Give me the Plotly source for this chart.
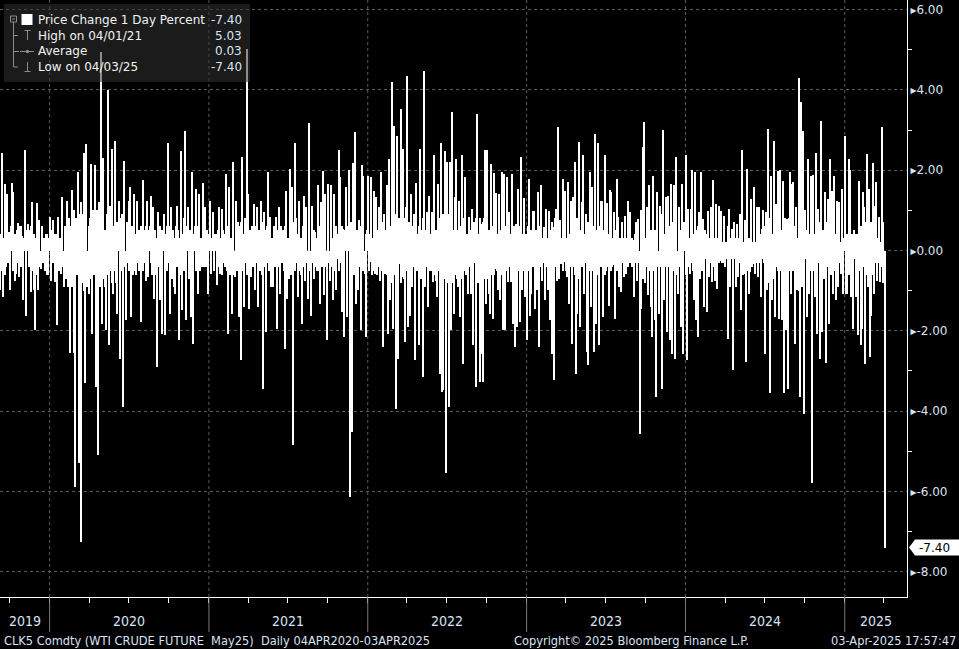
from itertools import zip_longest

import pandas as pd
import plotly.graph_objects as go

# ---------------- data (daily % change, by calendar year) ----------------
# chg_YYYY: the visible needle tips; small_YYYY: the small moves forming the dense band round zero
# (the two lists alternate day by day)
chg_2019 = [-0.99, 2.42, -1.16, 1.66, -0.41, 1.41, 0.45, -0.99, 1.68, 1.45, -0.75, -0.58, 0.69, -0.66,
            0.62, 0.35, -1.24, 2.50, -1.62, 0.66, 0.50, -1.04, 1.20, -0.99, -1.97, 1.18, -0.99, 0.75,
            -0.45, 0.50, 0.30, -0.50, 0.40, -0.62]
small_2019 = [0.4, -0.5, 0.3, -0.6, 0.5, -0.3, -0.4, 0.6, -0.5, -0.2, 0.4, 0.5, -0.3, 0.6, -0.4, -0.5,
              0.3, -0.6, 0.5, -0.4, -0.3, 0.6, -0.5, 0.4, 0.3, -0.6, 0.5, -0.4, 0.6, -0.3, -0.5, 0.4,
              -0.6, 0.3]
chg_2020 = [0.83, -0.75, 0.75, 0.40, -0.79, -1.86, 0.83, -0.50, -0.58, 1.33, -0.91, 0.60, 1.23, -0.91,
            -2.55, 0.50, 1.51, -2.55, -5.88, 0.70, 1.96, -5.30, -7.25, 0.90, 2.44, -3.31, 2.65, -0.80,
            -1.08, 2.15, -2.07, 1.00, 2.14, -3.40, -5.10, 1.20, 4.95, -1.82, 2.30, -0.90, -1.99, 3.99,
            -2.36, 1.10, 2.53, -1.08, 2.73, -0.80, -1.57, 1.24, -2.69, 0.90, -3.89, 2.24, -1.74, 0.70,
            1.24, 1.57, -1.66, -0.60, 1.41, -0.62, 1.24, -0.50, -0.41, -1.78, 1.76, 0.50, -0.75, 1.24,
            -0.66, 0.60, 1.37, 1.08, -1.20, -0.60, -2.90, 0.95, -1.24, 0.50, -2.07, 0.91, -2.11, 0.60,
            2.69, -1.57, 1.08, -0.70, -0.91, -1.08, 1.12, 0.50, -2.24, 2.49, -1.49, 0.80, 2.98, -1.74,
            1.08, -0.70, -1.66, 1.96, -2.32, 0.60, 1.53, -1.08, 1.41, -0.50, -0.41, 1.67, 1.08, -0.40,
            -1.08]
small_2020 = [-0.4, 0.5, -0.3, -0.6, 0.4, 0.7, -0.5, 0.3, 0.6, -0.4, 0.5, -0.7, -0.3, 0.8, 0.6, -0.9,
              -0.7, 1.0, 0.8, -0.6, -1.1, 0.9, 1.2, -0.8, -1.0, 0.7, -0.9, 0.6, 0.8, -0.7, 0.9, -0.6,
              -0.8, 1.0, 0.7, -0.9, -0.6, 0.8, -0.7, 0.5, 0.9, -0.6, 0.7, -0.5, -0.8, 0.6, -0.5, 0.7,
              0.4, -0.6, 0.8, -0.5, 0.6, -0.4, 0.7, -0.3, -0.5, -0.4, 0.6, 0.3, -0.5, 0.4, -0.3, 0.5,
              0.6, 0.4, -0.5, -0.3, 0.6, -0.4, 0.5, -0.3, -0.6, -0.4, 0.5, 0.3, 0.7, -0.4, 0.6, -0.3,
              0.5, -0.6, 0.4, -0.5, -0.3, 0.6, -0.4, 0.5, 0.3, 0.6, -0.4, -0.5, 0.3, -0.6, 0.4, -0.5,
              -0.3, 0.6, -0.4, 0.5, 0.3, -0.6, 0.4, -0.5, -0.3, 0.6, -0.4, 0.3, 0.5, -0.4, -0.3, 0.5,
              0.4]
chg_2021 = [1.23, -0.58, 0.95, -0.29, 0.40, -0.87, 1.08, -0.58, 1.04, 0.50, -0.41, 1.91, -2.07, 1.57,
            -0.60, -1.57, 2.20, -0.66, 1.24, 0.70, -1.66, -2.73, 2.32, -1.41, 0.80, 5.03, 1.41, -1.45,
            -0.66, 0.60, 1.16, -0.99, 1.08, -1.41, -0.50, 1.24, -3.44, 0.95, -2.03, 0.60, 1.96, 0.83,
            -0.91, -0.91, 0.50, 0.83, -1.95, 1.08, -1.08, 0.40, 0.50, -2.45, 1.49, -1.20, -0.70, 2.03,
            1.57, -4.85, 2.69, 0.80, -1.16, 1.24, -0.60, -1.82, 1.37, -0.75, 1.08, -1.20, 3.17, -1.62,
            1.12, -0.70, 0.46, -0.50, 1.62, -1.33, 1.20, 1.99, -1.12, 1.41, -2.24, 1.66, -0.75, 1.64,
            -1.24, 1.41, -0.99, -0.21, 2.50, 1.82, -1.53, 0.54, -2.15, 1.57, -1.66, 2.00, -6.13, -4.52,
            2.17, 2.94, -1.33, -0.99, 0.75, -1.99, 2.14, 1.86, -0.58, -2.15]
small_2021 = [-0.4, 0.3, -0.5, 0.4, -0.3, 0.5, -0.4, 0.3, -0.6, -0.3, 0.4, -0.5, 0.6, -0.4, 0.3, 0.5,
              -0.6, 0.4, -0.5, -0.3, 0.6, 0.7, -0.5, 0.4, -0.3, -0.6, -0.4, 0.5, 0.3, -0.4, -0.5, 0.6,
              -0.3, 0.5, 0.4, -0.6, 0.7, -0.4, 0.5, -0.3, -0.5, -0.4, 0.3, 0.6, -0.4, -0.3, 0.5, -0.4,
              0.6, -0.3, -0.5, 0.6, -0.4, 0.3, 0.5, -0.6, -0.4, 0.7, -0.5, -0.3, 0.4, -0.5, 0.3, 0.6,
              -0.4, 0.5, -0.3, 0.6, -0.5, 0.4, -0.3, 0.5, -0.4, 0.3, -0.5, 0.6, -0.4, -0.3, 0.5, -0.4,
              0.6, -0.3, 0.5, -0.4, 0.3, -0.5, 0.6, 0.4, -0.5, -0.3, 0.6, -0.4, 0.5, -0.3, 0.6, -0.4,
              0.7, 0.5, -0.6, -0.4, 0.5, 0.3, -0.4, 0.6, -0.5, -0.3, 0.4, 0.5]
chg_2022 = [1.86, -0.29, 1.84, -0.62, 1.49, -0.58, 1.33, -0.54, 1.08, -0.75, 1.95, -2.40, 0.91, -0.58,
            1.64, -2.07, 2.28, -1.24, 4.20, -1.95, 3.11, -3.94, 2.86, -2.69, -0.33, 3.52, -0.66, 2.53,
            -2.28, 1.08, 4.35, -1.91, -1.62, 1.41, -0.91, 0.91, -2.73, 1.67, 0.41, -2.36, 2.53, -0.58,
            -3.16, 4.47, -0.50, 0.95, -1.41, 1.37, -0.46, 0.95, -0.79, 2.38, -0.75, -1.16, 1.66, -3.07,
            2.69, -3.52, -3.48, 2.49, -5.53, 2.20, -3.89, 2.20, -1.99, 3.46, -1.57, 1.33, 2.28, -0.91,
            1.24, -1.66, 2.39, -2.82, -0.50, 1.84, 0.41, -1.08, 0.83, -1.08, 1.04, -2.36, 0.17, -3.40,
            3.40, -0.08, -3.27, 0.66, -2.57, -3.27, 2.50, -1.33, 2.50, -1.08, -1.57, 2.15, -1.70, 1.92,
            -0.46, 1.43, -0.99, 1.41, -1.24, 1.95, -1.99, 1.91, -1.99, 1.82, -0.79, 0.95, -0.79, 1.91,
            -1.82, -2.40, 0.66, -1.91, 1.53, -1.78, 2.34, -0.99, 1.32, -1.16]
small_2022 = [-0.5, 0.4, -0.6, 0.3, -0.5, 0.4, -0.6, 0.5, -0.4, 0.6, -0.5, 0.7, -0.4, 0.5, -0.6, 0.7,
              -0.5, 0.6, -0.8, 0.7, -0.6, 0.9, -0.7, 0.8, 0.5, -0.8, 0.6, -0.7, 0.8, -0.5, -0.9, 0.7,
              0.6, -0.5, 0.6, -0.4, 0.7, -0.5, -0.4, 0.6, -0.7, 0.5, 0.8, -0.9, 0.5, -0.4, 0.6, -0.5,
              0.4, -0.5, 0.4, -0.6, 0.5, 0.6, -0.5, 0.8, -0.7, 0.9, 0.8, -0.7, 1.0, -0.8, 0.9, -0.7,
              0.6, -0.8, 0.5, -0.6, -0.7, 0.5, -0.6, 0.6, -0.7, 0.8, 0.4, -0.6, -0.4, 0.5, -0.4, 0.5,
              -0.5, 0.7, -0.3, 0.8, -0.8, 0.4, 0.8, -0.5, 0.7, 0.8, -0.7, 0.5, -0.7, 0.5, 0.6, -0.6,
              0.6, -0.6, 0.4, -0.5, 0.4, -0.5, 0.5, -0.6, 0.6, -0.5, 0.6, -0.5, 0.4, -0.4, 0.4, -0.5,
              0.6, 0.6, -0.4, 0.6, -0.5, 0.6, -0.6, 0.4, -0.5, 0.4]
chg_2023 = [-2.24, 1.78, -1.62, -1.08, 0.99, 0.99, -1.45, -0.99, 1.47, -2.40, 1.64, -0.75, 0.58, -1.24,
            1.04, -0.99, 0.99, -1.74, -2.57, 0.58, -3.23, 1.04, -0.75, 3.07, 0.75, -0.33, 1.78, -0.29,
            1.49, -0.66, 1.70, -1.33, 1.24, -2.32, 1.34, 2.20, -3.07, -1.57, 2.71, -1.91, 1.20, 2.38,
            -1.08, 0.91, -2.53, -2.86, 1.96, -1.41, 1.57, -2.53, 2.90, -1.82, 2.67,
            -2.36, 1.24, 1.24, -1.66, 2.39, -0.50, 1.18, -1.37, 1.51, 1.45, -0.37, 0.95, -1.70, 1.78,
            0.83, -0.91, -1.04, 0.70, -0.66, 0.87, -0.58, 1.24, 0.91, 0.95, -0.41, 0.25, -1.16, 0.70,
            -0.75, 0.79, -4.56, -1.45, 2.58, 3.21, -0.46, 1.08, -1.12, 1.62, -1.41, -2.15, 1.86, -1.74,
            -3.65, 1.45, -1.57, 1.12, -3.44, 3.00, -1.24, 1.33, -2.03, 1.37, -2.24, 1.66, -2.57, 1.64,
            -2.69, 2.32, -1.08, 1.08, -1.91, 1.66, -2.57]
small_2023 = [0.6, -0.5, 0.5, 0.4, -0.4, -0.3, 0.5, 0.4, -0.5, 0.6, -0.4, 0.3, -0.3, 0.4, -0.4, 0.3,
              -0.4, 0.5, 0.7, -0.3, 0.8, -0.4, 0.3, -0.7, -0.3, 0.3, -0.5, 0.3, -0.5, 0.3, -0.5, 0.4,
              -0.4, 0.6, -0.4, -0.6, 0.8, 0.5, -0.7, 0.5, -0.4, -0.6, 0.4, -0.3, 0.7, 0.7, -0.5, 0.4,
              -0.5, 0.6, -0.7, 0.5, -0.6,
              0.6, -0.4, -0.4, 0.5, -0.6, 0.3, -0.4, 0.4, -0.5, -0.4, 0.3, -0.3, 0.5, -0.5, -0.3, 0.3,
              0.4, -0.3, 0.3, -0.3, 0.3, -0.4, -0.3, -0.3, 0.3, -0.2, 0.4, -0.3, 0.3, -0.3, 1.0, 0.5,
              -0.7, -0.8, 0.3, -0.4, 0.4, -0.5, 0.5, 0.6, -0.5, 0.5, 0.9, -0.4, 0.5, -0.4, 0.9, -0.8,
              0.4, -0.4, 0.6, -0.4, 0.6, -0.5, 0.7, -0.5, 0.7, -0.6, 0.4, -0.4, 0.5, -0.5, 0.7]
chg_2024 = [2.38, -2.73, 1.04, -0.58, 1.04, 2.00, -1.24, 1.95, -1.74, -2.15, 0.95, -0.70, 1.96, 0.79,
            -1.41, 0.50, -1.53, 0.99, -0.66, 1.08, -0.79, 1.76, -0.75, 1.16, -0.95, 1.12, -0.25, 0.99,
            -0.17, 0.87, -0.41, 0.12, -2.20, 1.04, -0.91, 0.54, -2.98, 0.54, -0.91, 0.66, -0.66, 0.91,
            -1.49, 2.50, -0.58, 0.75, -2.78, 2.03, -1.08, -0.54, 1.28, -0.33, 1.57, -0.58, 1.08, -0.66,
            1.08, -1.16, 0.54, 1.01, -2.57, 0.95, -0.99, 3.02, -3.56, 1.86, -1.24, 2.73, -1.66, 1.16,
            1.99, -1.70, 2.00, -1.74, 1.74, -3.56, -1.99, 0.79, -3.44, 1.95, -1.08, 1.66, 1.70, -2.32,
            1.08, -0.99, 4.29, -3.65, 3.69, 2.98, -4.06, 0.46, -1.66, 2.28, -1.08, 1.86, -5.78, 1.89,
            -1.16, 2.44, -2.07, 1.04, -2.69, 3.23, -2.03, -0.70, 1.45, -2.80, 1.28, -1.82, 2.28, 1.49,
            -1.08, 1.86, -1.24, 1.24, -0.91, 1.20, -0.58, 1.53, -1.08]
small_2024 = [-0.6, 0.7, -0.4, 0.3, -0.3, -0.5, 0.4, -0.5, 0.5, 0.6, -0.3, 0.3, -0.5, -0.3, 0.4, -0.2,
              0.4, -0.3, 0.3, -0.3, 0.3, -0.4, 0.3, -0.3, 0.3, -0.3, 0.2, -0.3, 0.2, -0.3, 0.2, -0.2,
              0.6, -0.3, 0.3, -0.2, 0.7, -0.2, 0.3, -0.2, 0.3, -0.3, 0.4, -0.6, 0.2, -0.3, 0.7, -0.5,
              0.3, 0.2, -0.4, 0.2, -0.4, 0.2, -0.3, 0.2, -0.3, 0.4, -0.2, -0.3, 0.6, -0.3, 0.3, -0.8,
              0.8, -0.5, 0.4, -0.7, 0.5, -0.4, -0.5, 0.5, -0.5, 0.5, -0.5, 0.8, 0.5, -0.3, 0.8, -0.5,
              0.4, -0.5, -0.5, 0.6, -0.3, 0.3, -1.0, 0.9, -0.9, -0.7, 1.0, -0.2, 0.5, -0.6, 0.4, -0.5,
              1.2, -0.5, 0.4, -0.6, 0.5, -0.3, 0.7, -0.8, 0.5, 0.3, -0.4, 0.7, -0.4, 0.5, -0.6, -0.4,
              0.4, -0.5, 0.4, -0.4, 0.3, -0.3, 0.2, -0.4, 0.3]
chg_2025 = [2.86, -1.08, -1.08, 2.28, 2.00, -1.16, 0.33, -1.95, 0.37, -1.16, 0.41, -2.11, 1.74, -2.36,
            -1.95, 1.45, 1.08, -2.82, 2.40, -0.91, 1.53, -2.65, -1.62, 2.18, -1.08, 1.12, 1.70, -0.75,
            0.83, -0.79, -0.41, 3.07, 0.70, -7.40]
small_2025 = [-0.7, 0.4, 0.4, -0.6, -0.5, 0.4, -0.2, 0.5, -0.2, 0.4, -0.2, 0.6, -0.5, 0.6, 0.5, -0.4,
              -0.3, 0.7, -0.6, 0.3, -0.4, 0.7, 0.5, -0.6, 0.3, -0.3, -0.5, 0.3, -0.3, 0.2, 0.2, -0.8,
              -0.2]

# first and last trading day covered by each yearly list
year_spans = [("2019-09-10", "2019-12-31"), ("2020-01-02", "2020-12-31"), ("2021-01-04", "2021-12-31"),
              ("2022-01-03", "2022-12-30"), ("2023-01-03", "2023-12-29"), ("2024-01-02", "2024-12-31"),
              ("2025-01-02", "2025-04-03")]
years = [2019, 2020, 2021, 2022, 2023, 2024, 2025]
y_ticks = [-8, -6, -4, -2, 0, 2, 4, 6]
legend_rows = [("Price Change 1 Day Percent", "-7.40"), ("High on 04/01/21", "5.03"),
               ("Average", "0.03"), ("Low on 04/03/25", "-7.40")]
footer_left = "CLK5 Comdty (WTI CRUDE FUTURE\u00a0\u00a0May25)\u00a0\u00a0Daily 04APR2020-03APR2025"
footer_mid = "Copyright\u00a9 2025 Bloomberg Finance L.P."
footer_right = "03-Apr-2025 17:57:47"

# ---------------- build series ----------------
big = [chg_2019, chg_2020, chg_2021, chg_2022, chg_2023, chg_2024, chg_2025]
small = [small_2019, small_2020, small_2021, small_2022, small_2023, small_2024, small_2025]
dates, values = [], []
for (s, e), b, sm in zip(year_spans, big, small):
    seq = [v for pair in zip_longest(b, sm) for v in pair if v is not None]
    dates.extend(pd.date_range(s, e, periods=len(seq)))
    values.extend(seq)
last_val = values[-1]

X0, X1 = pd.Timestamp("2019-09-09"), pd.Timestamp("2025-05-24")
Y0, Y1 = -8.63, 6.24
DAY_MS = 86400000

W, H = 959, 649
ML, MR, MT, MB = 0, 52, 0, 52
PW, PH = W - ML - MR, H - MT - MB


def xp(px):
    return (px - ML) / PW


def yp(py):
    return 1 - (py - MT) / PH


AX_COL = "#dae3f3"
GRID = "#5c5c5c"
ICON = "#8c8c8c"
NARROW = "DejaVu Sans Condensed, Liberation Sans Narrow, sans-serif"
SANS = "DejaVu Sans, Verdana, sans-serif"

fig = go.Figure()
fig.add_trace(go.Bar(x=dates, y=values, width=3.4 * DAY_MS,
                     marker=dict(color="white", line=dict(width=0)),
                     showlegend=False, hoverinfo="x+y"))

shapes, annots = [], []

# year boundary gridlines (dotted) and dividers under the axis
for yr in years[1:]:
    d = pd.Timestamp(f"{yr}-01-01")
    shapes.append(dict(type="line", xref="x", yref="paper", x0=d, x1=d, y0=0, y1=1,
                       line=dict(color=GRID, width=1, dash="dot"), layer="below"))
    shapes.append(dict(type="line", xref="x", yref="paper", x0=d, x1=d, y0=0, y1=yp(632),
                       line=dict(color="#7a7a7a", width=1)))

# year labels centred in the visible part of each year
for yr in years:
    lo = max(pd.Timestamp(f"{yr}-01-01"), X0)
    hi = min(pd.Timestamp(f"{yr + 1}-01-01"), X1)
    annots.append(dict(x=lo + (hi - lo) / 2, y=yp(621), xref="x", yref="paper", text=str(yr),
                       showarrow=False, xanchor="center", yanchor="middle",
                       font=dict(family=NARROW, size=14, color=AX_COL)))

# footer
for txt, x, anc in [(footer_left, xp(2), "left"), (footer_mid, xp(631), "center"),
                    (footer_right, xp(958), "right")]:
    annots.append(dict(x=x, y=yp(640), xref="paper", yref="paper", text=txt, showarrow=False,
                       xanchor=anc, yanchor="middle", font=dict(family=NARROW, size=12.7, color=AX_COL)))

# last-value tag on the right axis
hh = 8 / (PH / (Y1 - Y0))
shapes.append(dict(type="path", xref="paper", yref="y", fillcolor="white", line=dict(width=0),
                   path=(f"M {xp(909)},{last_val} L {xp(915)},{last_val + hh} L {xp(959)},{last_val + hh} "
                         f"L {xp(959)},{last_val - hh} L {xp(915)},{last_val - hh} Z")))
annots.append(dict(x=xp(917), y=last_val, xref="paper", yref="y", text=f"{last_val:.2f}",
                   showarrow=False, xanchor="left", yanchor="middle",
                   font=dict(family=SANS, size=12, color="black")))

# legend box
shapes.append(dict(type="rect", xref="paper", yref="paper", x0=xp(4), x1=xp(250), y0=yp(82), y1=yp(4),
                   fillcolor="rgba(50,50,50,0.55)", line=dict(width=0), layer="above"))


def seg(x0, y0, x1, y1, col=ICON):
    shapes.append(dict(type="line", xref="paper", yref="paper", x0=xp(x0), y0=yp(y0), x1=xp(x1), y1=yp(y1),
                       line=dict(color=col, width=1), layer="above"))


shapes.append(dict(type="rect", xref="paper", yref="paper", x0=xp(10.5), x1=xp(16.5), y0=yp(22), y1=yp(16),
                   line=dict(color=ICON, width=1), layer="above"))
seg(12, 19, 15, 19)
seg(13.5, 22, 13.5, 67)
seg(13.5, 35.5, 18, 35.5)
seg(13.5, 51.5, 19, 51.5)
seg(13.5, 67, 18, 67)
shapes.append(dict(type="rect", xref="paper", yref="paper", x0=xp(21.5), x1=xp(32.5), y0=yp(25), y1=yp(14),
                   fillcolor="white", line=dict(width=0), layer="above"))
seg(24.5, 30.5, 30.5, 30.5)
seg(27.5, 30.5, 27.5, 40)
seg(20, 51.5, 34, 51.5)
shapes.append(dict(type="circle", xref="paper", yref="paper", x0=xp(25.8), x1=xp(29.2), y0=yp(53.2), y1=yp(49.8),
                   fillcolor=ICON, line=dict(width=0), layer="above"))
seg(27.5, 62, 27.5, 71.5)
seg(24.5, 71.5, 30.5, 71.5)

for (lab, val), ry in zip(legend_rows, [20, 35.5, 51.5, 67]):
    annots.append(dict(x=xp(36), y=yp(ry), xref="paper", yref="paper", text=lab, showarrow=False,
                       xanchor="left", yanchor="middle", font=dict(family=SANS, size=12, color="#f2f2f2")))
    annots.append(dict(x=xp(244), y=yp(ry), xref="paper", yref="paper", text=val, showarrow=False,
                       xanchor="right", yanchor="middle", font=dict(family=SANS, size=12, color=AX_COL)))

quarters = pd.date_range("2019-10-01", "2025-04-01", freq="QS")

fig.update_layout(
    width=W, height=H, margin=dict(l=ML, r=MR, t=MT, b=MB, pad=0),
    paper_bgcolor="black", plot_bgcolor="black", bargap=0, showlegend=False,
    shapes=shapes, annotations=annots,
    xaxis=dict(type="date", range=[X0, X1], tickmode="array", tickvals=quarters,
               ticktext=["" for _ in quarters], ticks="outside", ticklen=5, tickcolor="white",
               showgrid=False, zeroline=False, showline=True, linecolor="white", linewidth=1,
               fixedrange=True),
    yaxis=dict(side="right", range=[Y0, Y1], tickmode="array", tickvals=y_ticks,
               ticktext=["\u25b8" + f"{t:.2f}" for t in y_ticks], ticks="",
               tickfont=dict(family=SANS, size=12, color=AX_COL),
               showgrid=True, gridcolor=GRID, griddash="dot", gridwidth=1, zeroline=False,
               showline=True, linecolor="white", linewidth=1,
               minor=dict(tickmode="linear", tick0=-9, dtick=2, ticks="outside", ticklen=4,
                          tickcolor="white", showgrid=False),
               fixedrange=True),
)

fig.write_html("out.html", config={"displayModeBar": False},
               post_script="document.body.style.margin='0';document.body.style.overflow='hidden';")
